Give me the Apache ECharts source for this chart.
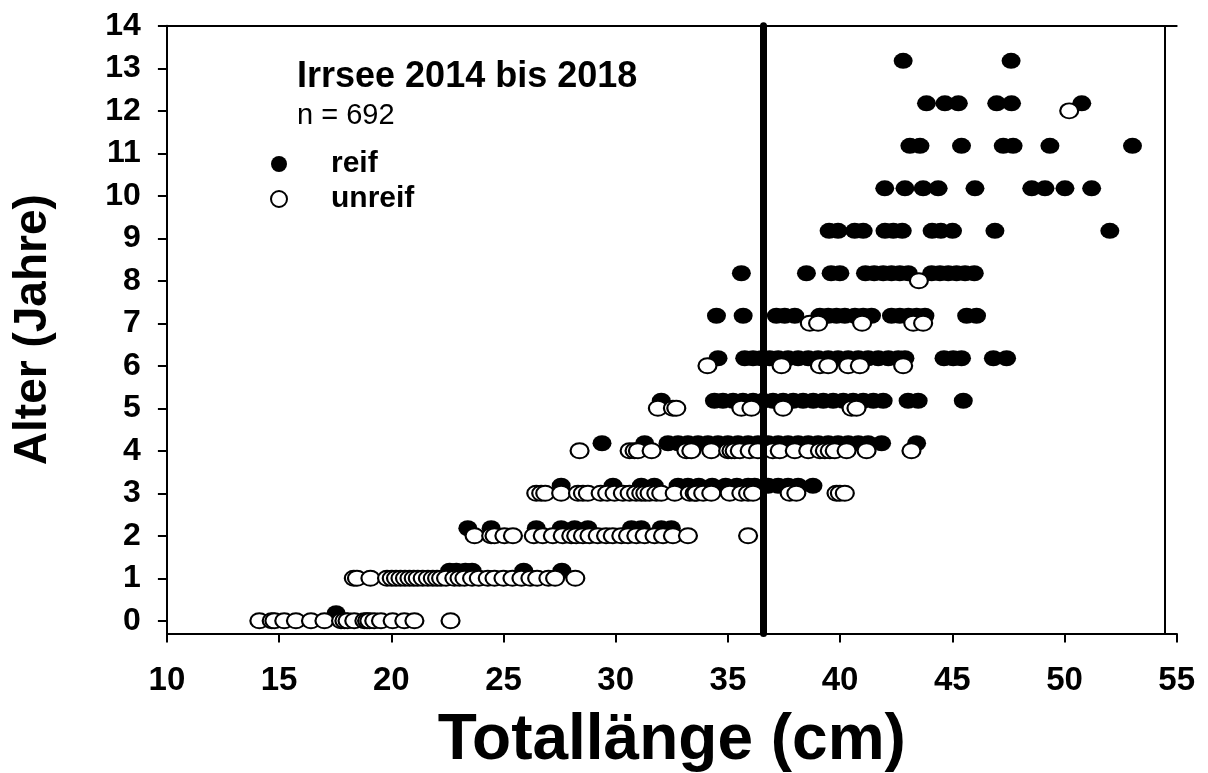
<!DOCTYPE html>
<html>
<head>
<meta charset="utf-8">
<script src="https://cdn.jsdelivr.net/npm/echarts@6/dist/echarts.min.js"></script>
<style>html,body{margin:0;padding:0;background:#fff}#c{width:1208px;height:773px}</style>
</head>
<body>
<div id="c"></div>
<script>
// Ages (y) and total lengths (x, cm)
const ageTicks = [0,1,2,3,4,5,6,7,8,9,10,11,12,13,14];
const lengthTicks = [10,15,20,25,30,35,40,45,50,55];
const cutLength = 36.57;          // vertical reference line (cm)
const frameRight = 54.45;         // right frame edge (cm)

// mature ("reif") lengths per age 0..13
const reifByAge = [
  [17.54],
  [22.6, 22.9, 23.3, 23.6, 25.9, 27.6],
  [23.41, 24.45, 26.46, 27.57, 28.17, 28.76, 30.7, 31.14, 32.03, 32.48],
  [27.57, 29.88, 31.14, 31.72, 32.78, 33.22, 33.7, 34.3, 34.9, 35.4, 35.9, 36.19, 36.79, 37.24, 37.68, 38.13, 38.79],
  [29.39, 31.29, 32.33, 32.78, 33.22, 33.67, 34.11, 34.56, 35.0, 35.45, 35.9, 36.34, 36.79, 37.24, 37.68, 38.13, 38.58, 39.02, 39.47, 39.91, 40.36, 40.81, 41.25, 41.85, 43.41],
  [32.03, 34.4, 34.78, 35.23, 35.67, 36.12, 36.57, 37.01, 37.46, 37.91, 38.35, 38.8, 39.25, 39.69, 40.14, 40.58, 41.03, 41.48, 41.92, 43.03, 43.48, 45.49],
  [34.56, 35.75, 36.12, 36.49, 36.86, 37.24, 37.68, 38.13, 38.58, 39.02, 39.47, 39.91, 40.36, 40.81, 41.25, 41.7, 42.15, 42.59, 42.89, 44.63, 45.04, 45.41, 46.83, 47.42],
  [34.49, 35.68, 37.16, 37.53, 37.98, 39.1, 39.47, 39.84, 40.21, 40.66, 41.03, 41.4, 42.29, 42.66, 43.04, 43.41, 43.78, 45.64, 46.08],
  [35.6, 38.5, 39.6, 39.99, 41.13, 41.52, 41.92, 42.29, 42.66, 43.04, 44.08, 44.45, 44.82, 45.19, 45.57, 45.98],
  [39.51, 39.91, 40.65, 41.03, 42.0, 42.37, 42.77, 44.1, 44.49, 45.01, 46.9, 52.02],
  [41.99, 42.89, 43.7, 44.37, 46.01, 48.54, 49.13, 50.02, 51.21],
  [43.11, 43.56, 45.41, 47.27, 47.71, 49.35, 53.03],
  [43.85, 44.67, 45.27, 46.98, 47.64, 50.77],
  [42.81, 47.62]
];

// immature ("unreif") lengths per age 0..13
const unreifByAge = [
  [14.12, 14.67, 14.79, 15.23, 15.75, 16.42, 17.02, 17.76, 17.91, 18.05, 18.35, 18.8, 18.92, 19.02, 19.24, 19.54, 20.06, 20.58, 21.03, 22.64],
  [18.33, 18.47, 19.07, 19.81, 20.02, 20.21, 20.41, 20.61, 20.81, 21.0, 21.18, 21.4, 21.63, 21.85, 22.04, 22.22, 22.44, 22.81, 23.04, 23.26, 23.6, 23.9, 24.3, 24.6, 25.0, 25.4, 25.8, 26.2, 26.5, 27.0, 27.3, 28.2],
  [23.71, 24.45, 24.6, 25.04, 25.42, 26.35, 26.75, 27.2, 27.64, 28.02, 28.24, 28.54, 28.83, 29.2, 29.57, 29.87, 30.25, 30.55, 30.92, 31.29, 31.73, 32.11, 32.55, 33.22, 35.9],
  [26.46, 26.68, 26.86, 27.57, 28.32, 28.54, 28.76, 29.33, 29.62, 29.95, 30.32, 30.62, 30.91, 31.14, 31.32, 31.51, 31.81, 32.03, 32.63, 33.3, 33.52, 33.6, 33.9, 34.26, 35.08, 35.6, 35.9, 36.12, 37.75, 38.05, 39.84, 39.99, 40.21],
  [28.39, 30.62, 30.84, 30.99, 31.6, 33.15, 33.37, 34.26, 35.01, 35.16, 35.3, 35.53, 35.97, 36.34, 37.0, 37.31, 37.98, 38.58, 39.1, 39.32, 39.54, 39.76, 40.29, 41.18, 43.18],
  [31.88, 32.55, 32.7, 35.6, 36.05, 37.46, 40.51, 40.73],
  [34.09, 37.39, 39.1, 39.47, 40.36, 40.88, 42.81],
  [38.65, 39.02, 40.98, 43.26, 43.7],
  [43.51],
  [], [], [],
  [50.21],
  []
];

function toPoints(byAge) {
  const pts = [];
  byAge.forEach((lens, age) => lens.forEach(l => pts.push([l, age])));
  return pts;
}

const FONT = '"Liberation Sans", Arial, sans-serif';
const chart = echarts.init(document.getElementById('c'), null, {renderer: 'canvas'});

chart.setOption({
  animation: false,
  backgroundColor: '#fff',
  title: {
    text: 'Irrsee 2014 bis 2018',
    subtext: 'n = 692',
    left: 292, top: 54,
    itemGap: 6,
    textStyle: {fontFamily: FONT, fontWeight: 'bold', fontSize: 36, color: '#000'},
    subtextStyle: {fontFamily: FONT, fontWeight: 'normal', fontSize: 29, color: '#000'}
  },
  legend: {
    orient: 'vertical',
    left: 265, top: 144,
    itemWidth: 18, itemHeight: 16,
    itemGap: 5,
    icon: 'circle',
    data: [
      {name: 'reif', itemStyle: {color: '#000', borderWidth: 0}},
      {name: 'unreif', itemStyle: {color: '#fff', borderColor: '#000', borderWidth: 2}}
    ],
    textStyle: {fontFamily: FONT, fontWeight: 'bold', fontSize: 30, color: '#000', padding: [0, 0, 0, 38]}
  },
  grid: {left: 166.9, right: 31.3, top: 25.8, bottom: 139.5, containLabel: false, outerBoundsMode: 'none'},
  xAxis: [{
    type: 'value', min: 10, max: 55, interval: 5,
    name: 'Totallänge (cm)', nameLocation: 'middle', nameGap: 76, nameMoveOverlap: false,
    nameTextStyle: {fontFamily: FONT, fontWeight: 'bold', fontSize: 64, color: '#000'},
    axisLine: {show: true, onZero: false, lineStyle: {color: '#000', width: 2}},
    axisTick: {show: true, inside: false, length: 9, lineStyle: {color: '#000', width: 2}},
    axisLabel: {fontFamily: FONT, fontWeight: 'bold', fontSize: 33, color: '#000', margin: 31,
      customValues: lengthTicks},
    splitLine: {show: false}
  }, {
    type: 'value', min: 10, max: 55, position: 'top',
    axisLine: {show: true, onZero: false, lineStyle: {color: '#000', width: 2}},
    axisTick: {show: false}, axisLabel: {show: false}, splitLine: {show: false}
  }],
  yAxis: {
    type: 'value', min: -0.3, max: 14,
    name: 'Alter (Jahre)', nameLocation: 'middle', nameGap: 111, nameRotate: 90, nameMoveOverlap: false,
    nameTextStyle: {fontFamily: FONT, fontWeight: 'bold', fontSize: 46, color: '#000'},
    axisLine: {show: true, onZero: false, lineStyle: {color: '#000', width: 2}},
    axisTick: {show: true, length: 9, lineStyle: {color: '#000', width: 2}, customValues: ageTicks},
    axisLabel: {fontFamily: FONT, fontWeight: 'bold', fontSize: 32, color: '#000', margin: 26,
      customValues: ageTicks},
    splitLine: {show: false}
  },
  series: [
    {
      name: 'reif', type: 'scatter', data: toPoints(reifByAge),
      symbol: 'circle', symbolSize: [19, 16], symbolOffset: [0, -7.5],
      itemStyle: {color: '#000', opacity: 1}
    },
    {
      name: 'unreif', type: 'scatter', data: toPoints(unreifByAge),
      symbol: 'circle', symbolSize: [18, 15],
      itemStyle: {color: '#fff', borderColor: '#000', borderWidth: 2, opacity: 1}
    },
    {
      name: 'frame', type: 'scatter', data: [], silent: true, z: 5,
      markLine: {
        silent: true, symbol: 'none', animation: false,
        label: {show: false},
        emphasis: {disabled: true},
        lineStyle: {type: 'solid', color: '#000', width: 2},
        data: [
          [{coord: [cutLength, -0.3], lineStyle: {type: 'solid', width: 7, color: '#000', cap: 'round'}},
           {coord: [cutLength, 14]}],
          [{coord: [frameRight, -0.3], lineStyle: {type: 'solid', width: 2, color: '#000'}},
           {coord: [frameRight, 14]}]
        ]
      }
    }
  ]
});
</script>
</body>
</html>
